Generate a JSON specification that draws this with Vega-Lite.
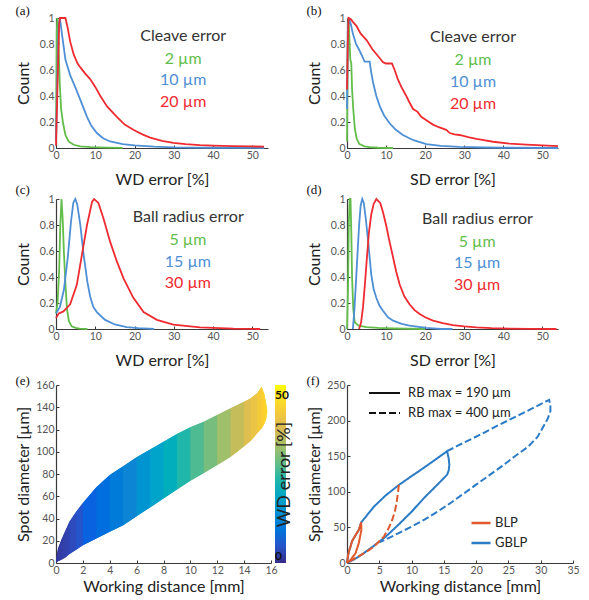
{
"$schema": "https://vega.github.io/schema/vega-lite/v6.json",
"padding": {"left": 15, "top": 5, "right": 0, "bottom": 0},
"config": {
  "view": {"stroke": null},
  "font": "Lato",
  "axis": {"grid": false, "domainColor": "#3a3a3a", "domainWidth": 1.2, "tickColor": "#3a3a3a", "tickSize": -3, "tickWidth": 1, "labelPadding": 5, "labelColor": "#555", "labelFontSize": 10.5, "labelFont": "Lato", "titleFont": "Lato", "titleFontSize": 16, "titleFontWeight": "normal", "titleColor": "#222", "labelFlush": false},
  "axisY": {"minExtent": 18, "maxExtent": 18, "titlePadding": 6.5},
  "axisX": {"minExtent": 12, "maxExtent": 12, "titlePadding": 11},
  "title": {"font": "Liberation Serif", "fontSize": 13, "fontWeight": "normal", "anchor": "start", "frame": "bounds", "color": "#111"}
},
"datasets": {
  "cleave_wd": [
    {"s":"2 µm","x":0,"y":0.08},{"s":"2 µm","x":0.2,"y":0.9},{"s":"2 µm","x":0.35,"y":1},{"s":"2 µm","x":0.6,"y":0.85},{"s":"2 µm","x":0.95,"y":0.5},{"s":"2 µm","x":1.3,"y":0.3},{"s":"2 µm","x":1.8,"y":0.19},{"s":"2 µm","x":2.4,"y":0.1},{"s":"2 µm","x":3.2,"y":0.05},{"s":"2 µm","x":4.5,"y":0.025},{"s":"2 µm","x":6.2,"y":0.012},{"s":"2 µm","x":9,"y":0.006},{"s":"2 µm","x":13,"y":0.003},{"s":"2 µm","x":17,"y":0.001},
    {"s":"10 µm","x":0,"y":0.05},{"s":"10 µm","x":0.3,"y":0.5},{"s":"10 µm","x":0.7,"y":0.95},{"s":"10 µm","x":1,"y":1},{"s":"10 µm","x":1.5,"y":0.88},{"s":"10 µm","x":2.4,"y":0.68},{"s":"10 µm","x":3.6,"y":0.56},{"s":"10 µm","x":5,"y":0.46},{"s":"10 µm","x":6.2,"y":0.37},{"s":"10 µm","x":7.9,"y":0.24},{"s":"10 µm","x":9,"y":0.17},{"s":"10 µm","x":10.4,"y":0.115},{"s":"10 µm","x":12,"y":0.075},{"s":"10 µm","x":13.8,"y":0.05},{"s":"10 µm","x":17,"y":0.03},{"s":"10 µm","x":20,"y":0.02},{"s":"10 µm","x":25,"y":0.01},{"s":"10 µm","x":30,"y":0.005},{"s":"10 µm","x":40,"y":0.002},{"s":"10 µm","x":50,"y":0.001},{"s":"10 µm","x":53,"y":0},
    {"s":"20 µm","x":0,"y":0.02},{"s":"20 µm","x":0.4,"y":0.5},{"s":"20 µm","x":0.8,"y":0.95},{"s":"20 µm","x":1,"y":1},{"s":"20 µm","x":2.4,"y":1},{"s":"20 µm","x":3,"y":0.92},{"s":"20 µm","x":3.6,"y":0.82},{"s":"20 µm","x":4.5,"y":0.72},{"s":"20 µm","x":5.5,"y":0.65},{"s":"20 µm","x":6.2,"y":0.62},{"s":"20 µm","x":7.5,"y":0.57},{"s":"20 µm","x":8.7,"y":0.53},{"s":"20 µm","x":10,"y":0.47},{"s":"20 µm","x":11.3,"y":0.4},{"s":"20 µm","x":13,"y":0.32},{"s":"20 µm","x":15.5,"y":0.24},{"s":"20 µm","x":17.5,"y":0.18},{"s":"20 µm","x":19.7,"y":0.14},{"s":"20 µm","x":22,"y":0.105},{"s":"20 µm","x":24,"y":0.08},{"s":"20 µm","x":27,"y":0.055},{"s":"20 µm","x":29.9,"y":0.04},{"s":"20 µm","x":33,"y":0.03},{"s":"20 µm","x":36.7,"y":0.022},{"s":"20 µm","x":40,"y":0.018},{"s":"20 µm","x":45,"y":0.014},{"s":"20 µm","x":50,"y":0.012},{"s":"20 µm","x":53,"y":0.01}
  ],
  "cleave_sd": [
    {"s":"2 µm","x":0,"y":0.05},{"s":"2 µm","x":0.2,"y":0.8},{"s":"2 µm","x":0.4,"y":1},{"s":"2 µm","x":0.6,"y":0.85},{"s":"2 µm","x":0.85,"y":0.68},{"s":"2 µm","x":1.1,"y":0.65},{"s":"2 µm","x":1.3,"y":0.45},{"s":"2 µm","x":1.6,"y":0.3},{"s":"2 µm","x":2,"y":0.15},{"s":"2 µm","x":2.5,"y":0.07},{"s":"2 µm","x":3.2,"y":0.03},{"s":"2 µm","x":4.5,"y":0.012},{"s":"2 µm","x":5.8,"y":0.006},{"s":"2 µm","x":8,"y":0.002},{"s":"2 µm","x":11.8,"y":0},
    {"s":"10 µm","x":0,"y":0.3},{"s":"10 µm","x":0.2,"y":0.9},{"s":"10 µm","x":0.5,"y":1},{"s":"10 µm","x":1,"y":0.95},{"s":"10 µm","x":1.5,"y":0.88},{"s":"10 µm","x":2.3,"y":0.8},{"s":"10 µm","x":3.2,"y":0.75},{"s":"10 µm","x":4,"y":0.7},{"s":"10 µm","x":4.5,"y":0.665},{"s":"10 µm","x":5.8,"y":0.665},{"s":"10 µm","x":6.2,"y":0.58},{"s":"10 µm","x":6.7,"y":0.5},{"s":"10 µm","x":7.5,"y":0.4},{"s":"10 µm","x":8.4,"y":0.32},{"s":"10 µm","x":9.5,"y":0.25},{"s":"10 µm","x":10.9,"y":0.19},{"s":"10 µm","x":12.5,"y":0.14},{"s":"10 µm","x":14.3,"y":0.1},{"s":"10 µm","x":17,"y":0.06},{"s":"10 µm","x":20.3,"y":0.03},{"s":"10 µm","x":24,"y":0.016},{"s":"10 µm","x":28.8,"y":0.008},{"s":"10 µm","x":35,"y":0.004},{"s":"10 µm","x":40,"y":0.002},{"s":"10 µm","x":54,"y":0},
    {"s":"20 µm","x":0,"y":0.45},{"s":"20 µm","x":0.2,"y":0.8},{"s":"20 µm","x":0.4,"y":1},{"s":"20 µm","x":1,"y":0.99},{"s":"20 µm","x":1.5,"y":0.97},{"s":"20 µm","x":2.4,"y":0.94},{"s":"20 µm","x":3.5,"y":0.88},{"s":"20 µm","x":5,"y":0.83},{"s":"20 µm","x":6.5,"y":0.76},{"s":"20 µm","x":8.4,"y":0.69},{"s":"20 µm","x":9.2,"y":0.66},{"s":"20 µm","x":10,"y":0.65},{"s":"20 µm","x":11.5,"y":0.65},{"s":"20 µm","x":12.2,"y":0.6},{"s":"20 µm","x":13,"y":0.53},{"s":"20 µm","x":13.9,"y":0.47},{"s":"20 µm","x":15,"y":0.41},{"s":"20 µm","x":16,"y":0.35},{"s":"20 µm","x":16.9,"y":0.3},{"s":"20 µm","x":18,"y":0.28},{"s":"20 µm","x":19,"y":0.24},{"s":"20 µm","x":20.5,"y":0.21},{"s":"20 µm","x":22,"y":0.18},{"s":"20 µm","x":23.5,"y":0.16},{"s":"20 µm","x":25.4,"y":0.14},{"s":"20 µm","x":26.3,"y":0.115},{"s":"20 µm","x":27.5,"y":0.105},{"s":"20 µm","x":28.8,"y":0.1},{"s":"20 µm","x":31,"y":0.083},{"s":"20 µm","x":33.1,"y":0.07},{"s":"20 µm","x":35,"y":0.06},{"s":"20 µm","x":37.4,"y":0.048},{"s":"20 µm","x":41.6,"y":0.034},{"s":"20 µm","x":45.9,"y":0.026},{"s":"20 µm","x":50,"y":0.02},{"s":"20 µm","x":54,"y":0.015}
  ],
  "ball_wd": [
    {"s":"5 µm","x":0,"y":0.12},{"s":"5 µm","x":0.4,"y":0.2},{"s":"5 µm","x":0.8,"y":0.45},{"s":"5 µm","x":1.1,"y":0.8},{"s":"5 µm","x":1.4,"y":1},{"s":"5 µm","x":1.7,"y":0.85},{"s":"5 µm","x":2,"y":0.6},{"s":"5 µm","x":2.4,"y":0.35},{"s":"5 µm","x":2.8,"y":0.15},{"s":"5 µm","x":3.3,"y":0.06},{"s":"5 µm","x":4,"y":0.02},{"s":"5 µm","x":5,"y":0.008},{"s":"5 µm","x":6,"y":0.003},{"s":"5 µm","x":8,"y":0},
    {"s":"15 µm","x":0,"y":0.12},{"s":"15 µm","x":1,"y":0.17},{"s":"15 µm","x":2,"y":0.3},{"s":"15 µm","x":3,"y":0.55},{"s":"15 µm","x":3.8,"y":0.82},{"s":"15 µm","x":4.4,"y":0.97},{"s":"15 µm","x":4.9,"y":1},{"s":"15 µm","x":5.4,"y":0.96},{"s":"15 µm","x":6.2,"y":0.8},{"s":"15 µm","x":7,"y":0.58},{"s":"15 µm","x":8,"y":0.36},{"s":"15 µm","x":8.7,"y":0.25},{"s":"15 µm","x":9.5,"y":0.17},{"s":"15 µm","x":10.4,"y":0.13},{"s":"15 µm","x":12.5,"y":0.07},{"s":"15 µm","x":15,"y":0.035},{"s":"15 µm","x":18,"y":0.015},{"s":"15 µm","x":21,"y":0.006},{"s":"15 µm","x":25,"y":0},
    {"s":"30 µm","x":0,"y":0.085},{"s":"30 µm","x":0.7,"y":0.12},{"s":"30 µm","x":1.9,"y":0.135},{"s":"30 µm","x":3.6,"y":0.19},{"s":"30 µm","x":5.3,"y":0.34},{"s":"30 µm","x":6.6,"y":0.57},{"s":"30 µm","x":7.9,"y":0.8},{"s":"30 µm","x":9.2,"y":0.98},{"s":"30 µm","x":9.7,"y":1},{"s":"30 µm","x":10.8,"y":0.97},{"s":"30 µm","x":12.1,"y":0.85},{"s":"30 µm","x":13.8,"y":0.67},{"s":"30 µm","x":15.5,"y":0.52},{"s":"30 µm","x":17.2,"y":0.39},{"s":"30 µm","x":19.7,"y":0.24},{"s":"30 µm","x":22.3,"y":0.13},{"s":"30 µm","x":25.7,"y":0.07},{"s":"30 µm","x":29.9,"y":0.033},{"s":"30 µm","x":36.7,"y":0.013},{"s":"30 µm","x":45.2,"y":0.003},{"s":"30 µm","x":52,"y":0}
  ],
  "ball_sd": [
    {"s":"5 µm","x":0,"y":0},{"s":"5 µm","x":0.25,"y":0.3},{"s":"5 µm","x":0.45,"y":0.8},{"s":"5 µm","x":0.7,"y":1},{"s":"5 µm","x":0.9,"y":1},{"s":"5 µm","x":1.1,"y":0.75},{"s":"5 µm","x":1.3,"y":0.4},{"s":"5 µm","x":1.6,"y":0.15},{"s":"5 µm","x":2,"y":0.05},{"s":"5 µm","x":3,"y":0.025},{"s":"5 µm","x":5,"y":0.015},{"s":"5 µm","x":8,"y":0.008},{"s":"5 µm","x":12,"y":0.004},{"s":"5 µm","x":20,"y":0},
    {"s":"15 µm","x":1.5,"y":0},{"s":"15 µm","x":1.9,"y":0.15},{"s":"15 µm","x":2.4,"y":0.42},{"s":"15 µm","x":3.1,"y":0.8},{"s":"15 µm","x":3.5,"y":0.95},{"s":"15 µm","x":3.9,"y":1},{"s":"15 µm","x":4.3,"y":0.97},{"s":"15 µm","x":4.8,"y":0.85},{"s":"15 µm","x":5.4,"y":0.68},{"s":"15 µm","x":6.2,"y":0.42},{"s":"15 µm","x":6.8,"y":0.31},{"s":"15 µm","x":7.5,"y":0.24},{"s":"15 µm","x":8.3,"y":0.18},{"s":"15 µm","x":9.2,"y":0.14},{"s":"15 µm","x":10.5,"y":0.09},{"s":"15 µm","x":11.8,"y":0.064},{"s":"15 µm","x":14,"y":0.04},{"s":"15 µm","x":16,"y":0.026},{"s":"15 µm","x":20.3,"y":0.008},{"s":"15 µm","x":24,"y":0},{"s":"15 µm","x":27,"y":0},
    {"s":"30 µm","x":3.1,"y":0},{"s":"30 µm","x":3.6,"y":0.05},{"s":"30 µm","x":4.1,"y":0.17},{"s":"30 µm","x":4.6,"y":0.35},{"s":"30 µm","x":5.1,"y":0.55},{"s":"30 µm","x":5.6,"y":0.74},{"s":"30 µm","x":6.2,"y":0.88},{"s":"30 µm","x":6.8,"y":0.96},{"s":"30 µm","x":7.5,"y":1},{"s":"30 µm","x":8.5,"y":0.97},{"s":"30 µm","x":9.2,"y":0.9},{"s":"30 µm","x":10,"y":0.8},{"s":"30 µm","x":10.9,"y":0.67},{"s":"30 µm","x":11.8,"y":0.55},{"s":"30 µm","x":12.6,"y":0.44},{"s":"30 µm","x":13.5,"y":0.34},{"s":"30 µm","x":14.7,"y":0.25},{"s":"30 µm","x":16,"y":0.19},{"s":"30 µm","x":17.3,"y":0.145},{"s":"30 µm","x":18.6,"y":0.115},{"s":"30 µm","x":20,"y":0.09},{"s":"30 µm","x":22,"y":0.064},{"s":"30 µm","x":24.5,"y":0.045},{"s":"30 µm","x":27.1,"y":0.03},{"s":"30 µm","x":30,"y":0.02},{"s":"30 µm","x":33.1,"y":0.013},{"s":"30 µm","x":37,"y":0.007},{"s":"30 µm","x":41.6,"y":0.003},{"s":"30 µm","x":47,"y":0.001},{"s":"30 µm","x":53.6,"y":0}
  ],
  "lab_a": [
    {"t":"Cleave error","s":"Cleave error","x":32.4,"y":0.862},{"t":"2 µm","s":"2 µm","x":32.4,"y":0.687},{"t":"10 µm","s":"10 µm","x":32.4,"y":0.52},{"t":"20 µm","s":"20 µm","x":32.4,"y":0.354}
  ],
  "lab_b": [
    {"t":"Cleave error","s":"Cleave error","x":32.25,"y":0.853},{"t":"2 µm","s":"2 µm","x":32.25,"y":0.678},{"t":"10 µm","s":"10 µm","x":32.25,"y":0.508},{"t":"20 µm","s":"20 µm","x":32.25,"y":0.34}
  ],
  "lab_c": [
    {"t":"Ball radius error","s":"Ball radius error","x":33.7,"y":0.858},{"t":"5 µm","s":"5 µm","x":33.6,"y":0.685},{"t":"15 µm","s":"15 µm","x":33.6,"y":0.518},{"t":"30 µm","s":"30 µm","x":33.6,"y":0.351}
  ],
  "lab_d": [
    {"t":"Ball radius error","s":"Ball radius error","x":33.4,"y":0.847},{"t":"5 µm","s":"5 µm","x":33.3,"y":0.673},{"t":"15 µm","s":"15 µm","x":33.3,"y":0.507},{"t":"30 µm","s":"30 µm","x":33.3,"y":0.342}
  ],
  "wd_map": [
    {"k":1,"x":0,"lo":0.5,"hi":3,"err":1.5},{"k":1,"x":0.15,"lo":1.5,"hi":13,"err":1.5},
    {"k":2,"x":0.15,"lo":1.5,"hi":13,"err":2},{"k":2,"x":0.4,"lo":3,"hi":21,"err":2},
    {"k":3,"x":0.4,"lo":3,"hi":21,"err":2.5},{"k":3,"x":0.7,"lo":5,"hi":29,"err":2.5},
    {"k":4,"x":0.7,"lo":5,"hi":29,"err":3},{"k":4,"x":1,"lo":8,"hi":37,"err":3},
    {"k":5,"x":1,"lo":8,"hi":37,"err":4},{"k":5,"x":1.5,"lo":12,"hi":46,"err":4},
    {"k":6,"x":1.5,"lo":12,"hi":46,"err":5},{"k":6,"x":2,"lo":16,"hi":54,"err":5},
    {"k":7,"x":2,"lo":16,"hi":54,"err":6.5},{"k":7,"x":3,"lo":22,"hi":68,"err":6.5},
    {"k":8,"x":3,"lo":22,"hi":68,"err":8.5},{"k":8,"x":4,"lo":28,"hi":79,"err":8.5},
    {"k":9,"x":4,"lo":28,"hi":79,"err":11},{"k":9,"x":5,"lo":34,"hi":87,"err":11},
    {"k":10,"x":5,"lo":34,"hi":87,"err":13.5},{"k":10,"x":6,"lo":42,"hi":95,"err":13.5},
    {"k":11,"x":6,"lo":42,"hi":95,"err":16},{"k":11,"x":7,"lo":50,"hi":102,"err":16},
    {"k":12,"x":7,"lo":50,"hi":102,"err":19},{"k":12,"x":8,"lo":58,"hi":109,"err":19},
    {"k":13,"x":8,"lo":58,"hi":109,"err":22},{"k":13,"x":9,"lo":66,"hi":116,"err":22},
    {"k":14,"x":9,"lo":66,"hi":116,"err":25},{"k":14,"x":10,"lo":74,"hi":122,"err":25},
    {"k":15,"x":10,"lo":74,"hi":122,"err":28},{"k":15,"x":11,"lo":81,"hi":127,"err":28},
    {"k":16,"x":11,"lo":81,"hi":127,"err":31},{"k":16,"x":12,"lo":88,"hi":133,"err":31},
    {"k":17,"x":12,"lo":88,"hi":133,"err":34.5},{"k":17,"x":13,"lo":95.5,"hi":139,"err":34.5},
    {"k":18,"x":13,"lo":95.5,"hi":139,"err":38},{"k":18,"x":14,"lo":105,"hi":145,"err":38},
    {"k":19,"x":14,"lo":105,"hi":145,"err":41},{"k":19,"x":14.5,"lo":110,"hi":148,"err":41},
    {"k":20,"x":14.5,"lo":110,"hi":148,"err":43},{"k":20,"x":15,"lo":117,"hi":153,"err":43},
    {"k":21,"x":15,"lo":117,"hi":153,"err":45},{"k":21,"x":15.3,"lo":121,"hi":158.5,"err":45},
    {"k":22,"x":15.3,"lo":121,"hi":158.5,"err":46.5},{"k":22,"x":15.5,"lo":125,"hi":152,"err":46.5},
    {"k":23,"x":15.5,"lo":125,"hi":152,"err":47.5},{"k":23,"x":15.65,"lo":130,"hi":143,"err":47.5},
    {"k":24,"x":15.65,"lo":130,"hi":143,"err":48},{"k":24,"x":15.72,"lo":136,"hi":137,"err":48}
  ],
  "beam": [
    {"lp":"GBLP","rb":"190","i":0,"x":0,"y":0},{"lp":"GBLP","rb":"190","i":1,"x":0.15,"y":10},{"lp":"GBLP","rb":"190","i":2,"x":0.35,"y":18},{"lp":"GBLP","rb":"190","i":3,"x":0.54,"y":23},{"lp":"GBLP","rb":"190","i":4,"x":0.8,"y":31},{"lp":"GBLP","rb":"190","i":5,"x":1.32,"y":39},{"lp":"GBLP","rb":"190","i":6,"x":1.83,"y":46.5},{"lp":"GBLP","rb":"190","i":7,"x":2.2,"y":57},{"lp":"GBLP","rb":"190","i":8,"x":3,"y":66},{"lp":"GBLP","rb":"190","i":9,"x":4.16,"y":79},{"lp":"GBLP","rb":"190","i":10,"x":6,"y":95},{"lp":"GBLP","rb":"190","i":11,"x":8.03,"y":109.6},{"lp":"GBLP","rb":"190","i":12,"x":10,"y":122},{"lp":"GBLP","rb":"190","i":13,"x":11.4,"y":130.6},{"lp":"GBLP","rb":"190","i":14,"x":13.5,"y":144},{"lp":"GBLP","rb":"190","i":15,"x":15.5,"y":157},{"lp":"GBLP","rb":"190","i":16,"x":15.75,"y":147},{"lp":"GBLP","rb":"190","i":17,"x":15.85,"y":138},{"lp":"GBLP","rb":"190","i":18,"x":15.75,"y":130},{"lp":"GBLP","rb":"190","i":19,"x":15.5,"y":124},{"lp":"GBLP","rb":"190","i":20,"x":14,"y":110},{"lp":"GBLP","rb":"190","i":21,"x":12,"y":92},{"lp":"GBLP","rb":"190","i":22,"x":10,"y":72},{"lp":"GBLP","rb":"190","i":23,"x":8,"y":54},{"lp":"GBLP","rb":"190","i":24,"x":6,"y":37},{"lp":"GBLP","rb":"190","i":25,"x":5,"y":30},{"lp":"GBLP","rb":"190","i":26,"x":4,"y":23},{"lp":"GBLP","rb":"190","i":27,"x":2,"y":10},{"lp":"GBLP","rb":"190","i":28,"x":1,"y":4.5},{"lp":"GBLP","rb":"190","i":29,"x":0,"y":0},
    {"lp":"GBLP","rb":"400","i":0,"x":15.5,"y":157},{"lp":"GBLP","rb":"400","i":1,"x":17,"y":164},{"lp":"GBLP","rb":"400","i":2,"x":19,"y":173},{"lp":"GBLP","rb":"400","i":3,"x":21,"y":182},{"lp":"GBLP","rb":"400","i":4,"x":23,"y":191.5},{"lp":"GBLP","rb":"400","i":5,"x":25,"y":200.5},{"lp":"GBLP","rb":"400","i":6,"x":27,"y":209.5},{"lp":"GBLP","rb":"400","i":7,"x":29,"y":218.5},{"lp":"GBLP","rb":"400","i":8,"x":30.5,"y":225.5},{"lp":"GBLP","rb":"400","i":9,"x":31.3,"y":229},{"lp":"GBLP","rb":"400","i":10,"x":31.5,"y":222},{"lp":"GBLP","rb":"400","i":11,"x":31.5,"y":213},{"lp":"GBLP","rb":"400","i":12,"x":31.1,"y":203},{"lp":"GBLP","rb":"400","i":13,"x":30.5,"y":193},{"lp":"GBLP","rb":"400","i":14,"x":29.5,"y":177},{"lp":"GBLP","rb":"400","i":15,"x":28,"y":163},{"lp":"GBLP","rb":"400","i":16,"x":26,"y":150},{"lp":"GBLP","rb":"400","i":17,"x":24,"y":136},{"lp":"GBLP","rb":"400","i":18,"x":22,"y":123},{"lp":"GBLP","rb":"400","i":19,"x":20,"y":110},{"lp":"GBLP","rb":"400","i":20,"x":18,"y":97},{"lp":"GBLP","rb":"400","i":21,"x":16,"y":84},{"lp":"GBLP","rb":"400","i":22,"x":14,"y":72},{"lp":"GBLP","rb":"400","i":23,"x":12,"y":61},{"lp":"GBLP","rb":"400","i":24,"x":10,"y":51},{"lp":"GBLP","rb":"400","i":25,"x":8,"y":42},{"lp":"GBLP","rb":"400","i":26,"x":6,"y":33},{"lp":"GBLP","rb":"400","i":27,"x":5,"y":29},
    {"lp":"BLP","rb":"190","i":0,"x":0,"y":0},{"lp":"BLP","rb":"190","i":1,"x":0.15,"y":10},{"lp":"BLP","rb":"190","i":2,"x":0.35,"y":18},{"lp":"BLP","rb":"190","i":3,"x":0.54,"y":23},{"lp":"BLP","rb":"190","i":4,"x":0.8,"y":31},{"lp":"BLP","rb":"190","i":5,"x":1.32,"y":39},{"lp":"BLP","rb":"190","i":6,"x":1.83,"y":46.5},{"lp":"BLP","rb":"190","i":7,"x":2.2,"y":57},{"lp":"BLP","rb":"190","i":8,"x":2.22,"y":46},{"lp":"BLP","rb":"190","i":9,"x":1.83,"y":28},{"lp":"BLP","rb":"190","i":10,"x":1.32,"y":13.6},{"lp":"BLP","rb":"190","i":11,"x":0.54,"y":4.2},{"lp":"BLP","rb":"190","i":12,"x":0,"y":0},
    {"lp":"BLP","rb":"400","i":0,"x":8.03,"y":109.6},{"lp":"BLP","rb":"400","i":1,"x":7.9,"y":99},{"lp":"BLP","rb":"400","i":2,"x":7.67,"y":84},{"lp":"BLP","rb":"400","i":3,"x":7.4,"y":72},{"lp":"BLP","rb":"400","i":4,"x":7,"y":60.4},{"lp":"BLP","rb":"400","i":5,"x":6.4,"y":48},{"lp":"BLP","rb":"400","i":6,"x":5.7,"y":37},{"lp":"BLP","rb":"400","i":7,"x":5,"y":30.5},{"lp":"BLP","rb":"400","i":8,"x":4.16,"y":23},{"lp":"BLP","rb":"400","i":9,"x":3.4,"y":18},{"lp":"BLP","rb":"400","i":10,"x":2.6,"y":13.6},{"lp":"BLP","rb":"400","i":11,"x":1.9,"y":10},{"lp":"BLP","rb":"400","i":12,"x":1,"y":5.5},{"lp":"BLP","rb":"400","i":13,"x":0,"y":0}
  ]
},
"resolve": {"scale": {"color": "independent", "strokeDash": "independent", "x": "independent", "y": "independent"}, "legend": {"color": "independent", "strokeDash": "independent"}},
"spacing": 7,
"vconcat": [
  {
    "spacing": -3,
    "resolve": {"scale": {"color": "independent", "x": "independent", "y": "independent"}, "legend": {"color": "independent"}},
    "vconcat": [
      {
        "spacing": 38,
        "resolve": {"scale": {"color": "independent", "x": "independent", "y": "independent"}, "legend": {"color": "independent"}},
        "hconcat": [
          {
            "title": {"text": "(a)", "offset": -5},
            "width": 212, "height": 130,
            "encoding": {
              "x": {"field": "x", "type": "quantitative", "scale": {"domain": [0, 54], "nice": false}, "axis": {"title": "WD error [%]", "values": [0, 10, 20, 30, 40, 50]}},
              "y": {"field": "y", "type": "quantitative", "scale": {"domain": [0, 1], "nice": false}, "axis": {"title": "Count", "values": [0, 0.2, 0.4, 0.6, 0.8, 1], "format": "~g"}},
              "color": {"field": "s", "type": "nominal", "scale": {"domain": ["2 µm", "10 µm", "20 µm", "Cleave error"], "range": ["#62bd4a", "#4e8fd5", "#ee2b30", "#333333"]}, "legend": null}
            },
            "layer": [
              {"data": {"name": "cleave_wd"}, "mark": {"type": "line", "strokeWidth": 1.8}},
              {"data": {"name": "lab_a"}, "mark": {"type": "text", "fontSize": 16, "font": "Lato", "baseline": "middle", "align": "center"}, "encoding": {"text": {"field": "t"}}}
            ]
          },
          {
            "title": {"text": "(b)", "offset": -5},
            "width": 211, "height": 130,
            "encoding": {
              "x": {"field": "x", "type": "quantitative", "scale": {"domain": [0, 54], "nice": false}, "axis": {"title": "SD error [%]", "values": [0, 10, 20, 30, 40, 50]}},
              "y": {"field": "y", "type": "quantitative", "scale": {"domain": [0, 1], "nice": false}, "axis": {"title": "Count", "values": [0, 0.2, 0.4, 0.6, 0.8, 1], "format": "~g"}},
              "color": {"field": "s", "type": "nominal", "scale": {"domain": ["2 µm", "10 µm", "20 µm", "Cleave error"], "range": ["#62bd4a", "#4e8fd5", "#ee2b30", "#333333"]}, "legend": null}
            },
            "layer": [
              {"data": {"name": "cleave_sd"}, "mark": {"type": "line", "strokeWidth": 1.8}},
              {"data": {"name": "lab_b"}, "mark": {"type": "text", "fontSize": 16, "font": "Lato", "baseline": "middle", "align": "center"}, "encoding": {"text": {"field": "t"}}}
            ]
          }
        ]
      },
      {
        "spacing": 38,
        "resolve": {"scale": {"color": "independent", "x": "independent", "y": "independent"}, "legend": {"color": "independent"}},
        "hconcat": [
          {
            "title": {"text": "(c)", "offset": -3},
            "width": 212, "height": 130,
            "encoding": {
              "x": {"field": "x", "type": "quantitative", "scale": {"domain": [0, 54], "nice": false}, "axis": {"title": "WD error [%]", "values": [0, 10, 20, 30, 40, 50]}},
              "y": {"field": "y", "type": "quantitative", "scale": {"domain": [0, 1], "nice": false}, "axis": {"title": "Count", "values": [0, 0.2, 0.4, 0.6, 0.8, 1], "format": "~g"}},
              "color": {"field": "s", "type": "nominal", "scale": {"domain": ["5 µm", "15 µm", "30 µm", "Ball radius error"], "range": ["#62bd4a", "#4e8fd5", "#ee2b30", "#333333"]}, "legend": null}
            },
            "layer": [
              {"data": {"name": "ball_wd"}, "mark": {"type": "line", "strokeWidth": 1.8}},
              {"data": {"name": "lab_c"}, "mark": {"type": "text", "fontSize": 16, "font": "Lato", "baseline": "middle", "align": "center"}, "encoding": {"text": {"field": "t"}}}
            ]
          },
          {
            "title": {"text": "(d)", "offset": -3},
            "width": 211, "height": 130,
            "encoding": {
              "x": {"field": "x", "type": "quantitative", "scale": {"domain": [0, 54], "nice": false}, "axis": {"title": "SD error [%]", "values": [0, 10, 20, 30, 40, 50]}},
              "y": {"field": "y", "type": "quantitative", "scale": {"domain": [0, 1], "nice": false}, "axis": {"title": "Count", "values": [0, 0.2, 0.4, 0.6, 0.8, 1], "format": "~g"}},
              "color": {"field": "s", "type": "nominal", "scale": {"domain": ["5 µm", "15 µm", "30 µm", "Ball radius error"], "range": ["#62bd4a", "#4e8fd5", "#ee2b30", "#333333"]}, "legend": null}
            },
            "layer": [
              {"data": {"name": "ball_sd"}, "mark": {"type": "line", "strokeWidth": 1.8}},
              {"data": {"name": "lab_d"}, "mark": {"type": "text", "fontSize": 16, "font": "Lato", "baseline": "middle", "align": "center"}, "encoding": {"text": {"field": "t"}}}
            ]
          }
        ]
      }
    ]
  },
  {
    "spacing": 13,
    "resolve": {"scale": {"color": "independent", "strokeDash": "independent", "x": "independent", "y": "independent"}, "legend": {"color": "independent", "strokeDash": "independent"}},
    "hconcat": [
      {
        "title": {"text": "(e)", "offset": -8},
        "width": 215, "height": 178,
        "data": {"name": "wd_map"},
        "resolve": {"scale": {"y": "independent"}},
        "layer": [
          {
            "mark": {"type": "area", "color": {"gradient": "linear", "x1": 0, "x2": 1, "y1": 0, "y2": 0, "stops": [{"offset": 0, "color": "#2a3a9f"}, {"offset": 0.127, "color": "#0a57cc"}, {"offset": 0.254, "color": "#0b73db"}, {"offset": 0.382, "color": "#118dd1"}, {"offset": 0.509, "color": "#0ba9c2"}, {"offset": 0.636, "color": "#38b99e"}, {"offset": 0.763, "color": "#8ebf75"}, {"offset": 0.891, "color": "#d7ba57"}, {"offset": 1, "color": "#fbd928"}]}},
            "encoding": {
              "x": {"field": "x", "type": "quantitative", "scale": {"domain": [0, 16], "nice": false}, "axis": {"title": "Working distance [mm]", "values": [0, 2, 4, 6, 8, 10, 12, 14, 16], "titlePadding": 3.5, "labelOverlap": false}},
              "y": {"field": "lo", "type": "quantitative", "scale": {"domain": [0, 160], "nice": false}, "axis": null},
              "y2": {"field": "hi"}
            }
          },
          {
            "mark": {"type": "area"},
            "encoding": {
              "x": {"field": "x", "type": "quantitative", "scale": {"domain": [0, 16], "nice": false}, "axis": {"title": "Working distance [mm]", "values": [0, 2, 4, 6, 8, 10, 12, 14, 16], "titlePadding": 3.5, "labelOverlap": false}},
              "y": {"field": "lo", "type": "quantitative", "scale": {"domain": [0, 160], "nice": false}, "axis": {"orient": "left", "title": "Spot diameter [µm]", "values": [0, 20, 40, 60, 80, 100, 120, 140, 160]}},
              "y2": {"field": "hi"},
              "detail": {"field": "k", "type": "nominal"},
              "color": {"field": "err", "type": "quantitative", "scale": {"domain": [0, 6.625, 13.25, 19.875, 26.5, 33.125, 39.75, 46.375, 53], "range": ["#352a87", "#0363e1", "#1485d4", "#06a7c6", "#38b99e", "#92bf73", "#d9ba56", "#fcce2e", "#f9fb0e"]}, "legend": {"type": "gradient", "title": null, "orient": "right", "offset": -18, "direction": "vertical", "gradientLength": 178, "gradientThickness": 11, "gradientStrokeWidth": 0, "values": [0, 50], "labelFontSize": 12, "labelFontWeight": "bold", "labelColor": "#111", "labelOffset": -11, "zindex": 0}}
            }
          },
          {
            "mark": {"type": "point", "opacity": 0},
            "encoding": {
              "x": {"field": "x", "type": "quantitative", "scale": {"domain": [0, 16], "nice": false}, "axis": {"title": "Working distance [mm]", "values": [0, 2, 4, 6, 8, 10, 12, 14, 16], "titlePadding": 3.5, "labelOverlap": false}},
              "y": {"field": "hi", "type": "quantitative", "scale": {"domain": [0, 160], "nice": false}, "axis": {"orient": "right", "title": "WD error [%]", "titleAngle": 270, "titleBaseline": "middle", "titlePadding": 13, "titleFontSize": 18, "minExtent": 0, "maxExtent": 0, "domain": false, "ticks": false, "labels": false, "zindex": 1}}
            }
          }
        ]
      },
      {
        "title": {"text": "(f)", "offset": -8},
        "width": 226, "height": 178,
        "data": {"name": "beam"},
        "encoding": {
          "x": {"field": "x", "type": "quantitative", "scale": {"domain": [0, 35], "nice": false}, "axis": {"title": "Working distance [mm]", "values": [0, 5, 10, 15, 20, 25, 30, 35], "titlePadding": 3.5}},
          "y": {"field": "y", "type": "quantitative", "scale": {"domain": [0, 250], "nice": false}, "axis": {"title": "Spot diameter [µm]", "values": [0, 50, 100, 150, 200, 250]}},
          "order": {"field": "i", "type": "quantitative"},
          "color": {"field": "lp", "type": "nominal", "scale": {"domain": ["BLP", "GBLP"], "range": ["#e1582b", "#2b7bc6"]}, "legend": {"title": null, "orient": "none", "legendX": 123, "legendY": 130, "symbolType": "stroke", "symbolSize": 361, "symbolStrokeWidth": 2.5, "labelFontSize": 13, "labelColor": "#222", "labelOffset": 3, "clipHeight": 16, "rowPadding": 4, "padding": 0}},
          "strokeDash": {"field": "rb", "type": "nominal", "scale": {"domain": ["190", "400"], "range": [[1, 0], [7, 3]]}, "legend": {"title": null, "orient": "none", "legendX": 21, "legendY": 0, "symbolType": "stroke", "symbolSize": 961, "symbolStrokeWidth": 2, "symbolStrokeColor": "#111", "labelFontSize": 13, "labelColor": "#222", "labelOffset": 7, "clipHeight": 16, "rowPadding": 4, "padding": 0, "labelExpr": "'RB max = ' + datum.label + ' µm'"}}
        },
        "layer": [
          {"transform": [{"filter": "datum.lp == 'GBLP'"}], "mark": {"type": "line", "strokeWidth": 2}},
          {"transform": [{"filter": "datum.lp == 'BLP'"}], "mark": {"type": "line", "strokeWidth": 2}}
        ]
      }
    ]
  }
]
}
